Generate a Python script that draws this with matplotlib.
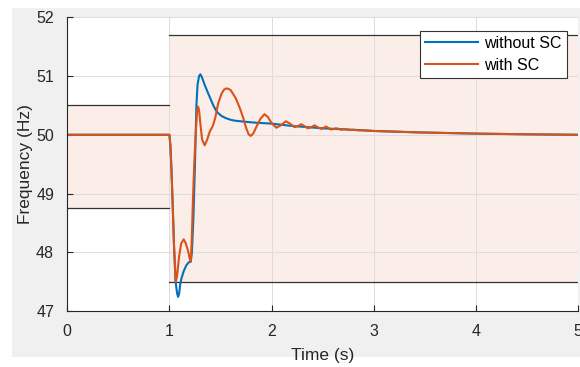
import matplotlib
matplotlib.use("Agg")
import matplotlib.pyplot as plt
from matplotlib.patches import Rectangle

# frequency response after the disturbance at t = 1 s
t_wo = [0.0, 1.0, 1.01, 1.02, 1.03, 1.045, 1.06, 1.075, 1.085, 1.095, 1.105,
        1.117, 1.14, 1.166, 1.19, 1.209, 1.22, 1.235, 1.25, 1.264, 1.275,
        1.29, 1.303, 1.32, 1.345, 1.378, 1.40, 1.427, 1.45, 1.476, 1.51,
        1.557, 1.6, 1.64, 1.75, 1.85, 1.95, 2.0, 2.2, 2.5, 2.86, 3.0, 3.45,
        4.0, 4.5, 5.0]
f_wo = [50.0, 50.0, 49.8, 49.4, 48.9, 48.1, 47.5, 47.3, 47.24, 47.3, 47.45,
        47.55, 47.68, 47.78, 47.83, 47.84, 48.0, 48.6, 49.5, 50.5, 50.85,
        51.0, 51.03, 50.97, 50.85, 50.71, 50.62, 50.51, 50.43, 50.37, 50.32,
        50.28, 50.255, 50.24, 50.22, 50.205, 50.195, 50.19, 50.15, 50.11,
        50.08, 50.065, 50.04, 50.02, 50.008, 50.0]

t_sc = [0.0, 1.0, 1.01, 1.02, 1.03, 1.045, 1.062, 1.075, 1.094, 1.115, 1.14,
        1.16, 1.18, 1.2, 1.209, 1.22, 1.23, 1.245, 1.26, 1.27, 1.28, 1.29,
        1.305, 1.32, 1.345, 1.37, 1.394, 1.427, 1.45, 1.476, 1.51, 1.535,
        1.557, 1.58, 1.6, 1.65, 1.69, 1.72, 1.75, 1.775, 1.795, 1.82, 1.85,
        1.89, 1.93, 1.965, 2.0, 2.046, 2.09, 2.14, 2.18, 2.225, 2.26, 2.29,
        2.32, 2.355, 2.39, 2.42, 2.45, 2.486, 2.51, 2.534, 2.56, 2.583, 2.61,
        2.632, 2.66, 2.68, 2.71, 2.74, 2.77, 2.80, 2.85, 2.9, 3.0, 3.45,
        4.0, 4.5, 5.0]
f_sc = [50.0, 50.0, 49.8, 49.4, 48.9, 48.1, 47.5, 47.6, 47.92, 48.15, 48.22,
        48.15, 48.04, 47.88, 47.84, 48.3, 48.9, 49.6, 50.1, 50.38, 50.48,
        50.42, 50.15, 49.92, 49.82, 49.92, 50.05, 50.16, 50.3, 50.53, 50.7,
        50.77, 50.79, 50.78, 50.76, 50.62, 50.45, 50.3, 50.12, 50.01, 49.98,
        50.02, 50.13, 50.27, 50.35, 50.3, 50.2, 50.12, 50.16, 50.23, 50.19,
        50.13, 50.15, 50.18, 50.15, 50.11, 50.13, 50.16, 50.13, 50.1, 50.12,
        50.14, 50.11, 50.09, 50.1, 50.11, 50.1, 50.085, 50.095, 50.09, 50.08,
        50.085, 50.075, 50.075, 50.065, 50.04, 50.02, 50.008, 50.0]

# allowed frequency band: before and after the event
t_band = [0.0, 1.0, 1.0, 5.0]
f_low = [48.75, 48.75, 47.5, 47.5]
f_high = [50.5, 50.5, 51.7, 51.7]

blue = "#0072BD"
orange = "#D95319"
dark = "#262626"

plt.rcParams["font.family"] = ["Liberation Sans", "DejaVu Sans"]

fig = plt.figure(figsize=(5.8, 3.67), dpi=100, facecolor="white")
fig.patches.append(Rectangle((12 / 580, 1 - 357 / 367), 568 / 580, 349 / 367,
                             transform=fig.transFigure, facecolor="#f0f0f0",
                             edgecolor="none", zorder=-10))
ax = fig.add_axes([67.3 / 580, 1 - 311 / 367, (578 - 67.3) / 580, (311 - 17.3) / 367])
ax.set_facecolor("white")

# shaded band with black edges
ax.fill_between(t_band[:2], f_low[:2], f_high[:2], color=orange, alpha=0.1, lw=0)
ax.fill_between(t_band[2:], f_low[2:], f_high[2:], color=orange, alpha=0.1, lw=0)
for seg in (slice(0, 2), slice(2, 4)):
    ax.plot(t_band[seg], f_low[seg], color="#333333", lw=0.9)
    ax.plot(t_band[seg], f_high[seg], color="#333333", lw=0.9)

ax.plot(t_wo, f_wo, color=blue, lw=1.5, label="without SC")
ax.plot(t_sc, f_sc, color=orange, lw=1.5, label="with SC")

ax.set_xlim(0, 5)
ax.set_ylim(47, 52)
ax.set_xticks(range(0, 6))
ax.set_yticks(range(47, 53))
ax.grid(True, color="#dcdcdc", lw=0.7)
ax.tick_params(direction="in", length=4, width=0.8, colors=dark, labelsize=11.5,
               top=False, right=False)
ax.tick_params(axis="x", pad=9)
ax.tick_params(axis="y", pad=9.5)
for side in ("top", "right"):
    ax.spines[side].set_visible(False)
for side in ("left", "bottom"):
    ax.spines[side].set_color(dark)
    ax.spines[side].set_linewidth(0.8)

ax.set_xlabel("Time (s)", fontsize=12.5, color=dark, labelpad=7)
ax.set_ylabel("Frequency (Hz)", fontsize=12.5, color=dark, labelpad=2)

leg = ax.legend(loc="upper right", bbox_to_anchor=(0.978, 0.955), fontsize=11.5,
                fancybox=False, framealpha=1, edgecolor="#333333",
                handlelength=3.3, handletextpad=0.4, borderpad=0.33,
                labelspacing=0.45, borderaxespad=0)
leg.get_frame().set_linewidth(0.8)

fig.savefig("out.png", dpi=100, facecolor="white")
